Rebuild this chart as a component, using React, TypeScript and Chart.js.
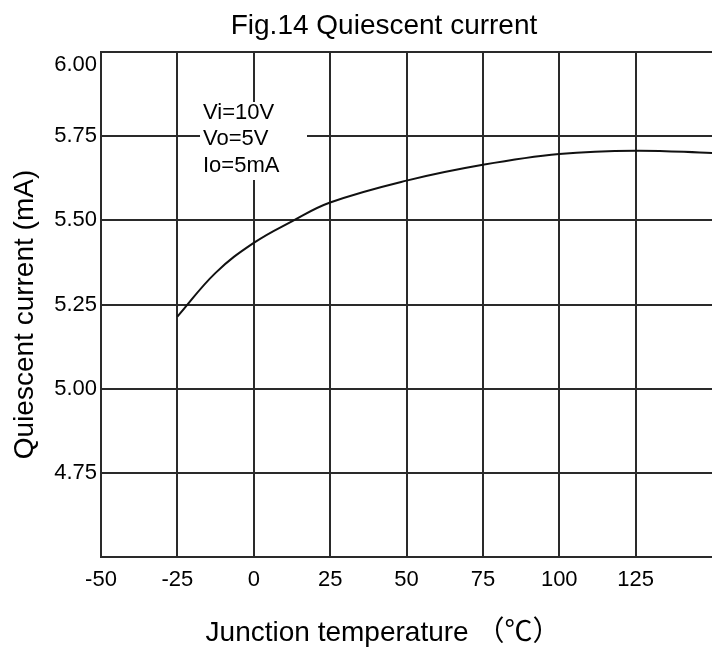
import React, { useEffect, useRef } from "react";
import { Chart, registerables } from "chart.js";

Chart.register(...registerables);

const temps = [-25, -12.5, 0, 12.5, 25, 50, 75, 100, 125, 150];
const currents = [5.214, 5.344, 5.433, 5.497, 5.553, 5.618, 5.665, 5.697, 5.707, 5.7];
const xTickValues = [-50, -25, 0, 25, 50, 75, 100, 125];
const yTickValues = [4.75, 5.0, 5.25, 5.5, 5.75, 6.0];
const noteLines = ["Vi=10V", "Vo=5V", "Io=5mA"];
const TITLE = "Fig.14 Quiescent current";
const X_TITLE = "Junction temperature （℃）";
const Y_TITLE = "Quiescent current (mA)";

const FONT = "'Liberation Sans', Arial, 'Noto Sans CJK SC', sans-serif";
const GRID = "#2a2a2a";

const textPlugin = {
  id: "customText",
  afterDraw(chart: any) {
    const ctx = chart.ctx as CanvasRenderingContext2D;
    ctx.save();
    ctx.fillStyle = "#000";
    ctx.textAlign = "center";
    ctx.textBaseline = "alphabetic";
    ctx.font = `28px ${FONT}`;
    ctx.fillText(TITLE, 384, 34);
    ctx.fillText(X_TITLE, 383, 641);
    ctx.save();
    ctx.translate(33, 314.5);
    ctx.rotate(-Math.PI / 2);
    ctx.fillText(Y_TITLE, 0, 0);
    ctx.restore();
    // note box
    ctx.fillStyle = "#fff";
    ctx.fillRect(200, 102, 107, 78);
    ctx.fillStyle = "#000";
    ctx.textAlign = "left";
    ctx.font = `22px ${FONT}`;
    noteLines.forEach((t, i) => ctx.fillText(t, 203, 118.5 + i * 26.7));
    ctx.restore();
  },
};

export default function App() {
  const ref = useRef<HTMLCanvasElement | null>(null);
  useEffect(() => {
    if (!ref.current) return;
    const points = temps.map((t, i) => ({ x: t, y: currents[i] }));
    const chart = new Chart(ref.current, {
      type: "line",
      data: {
        datasets: [
          {
            data: points,
            borderColor: "#111",
            borderWidth: 2,
            pointRadius: 0,
            fill: false,
            tension: 0.4,
          },
        ],
      },
      options: {
        animation: false,
        responsive: false,
        devicePixelRatio: 1,
        layout: { padding: { top: 52, left: 0, right: 0, bottom: 0 } },
        plugins: { legend: { display: false }, tooltip: { enabled: false }, title: { display: false } },
        scales: {
          x: {
            type: "linear",
            min: -50,
            max: 150,
            afterBuildTicks: (scale: any) => {
              scale.ticks = [...xTickValues, 150].map((v) => ({ value: v }));
            },
            afterFit: (scale: any) => {
              scale.height = 91;
              scale.paddingRight = 0;
              scale.paddingLeft = 0;
            },
            grid: {
              color: (c: any) => (c.tick && c.tick.value === 150 ? "rgba(0,0,0,0)" : GRID),
              lineWidth: 2,
              drawTicks: false,
            },
            border: { color: GRID, width: 2 },
            ticks: {
              padding: 10,
              color: "#000",
              font: { family: FONT, size: 22 },
              maxRotation: 0,
              autoSkip: false,
              callback: (v: any) => (xTickValues.includes(Number(v)) ? String(v) : ""),
            },
          },
          y: {
            type: "linear",
            min: 4.5,
            max: 6.0,
            afterBuildTicks: (scale: any) => {
              scale.ticks = [4.5, ...yTickValues].map((v) => ({ value: v }));
            },
            afterFit: (scale: any) => {
              scale.width = 101;
            },
            grid: { color: GRID, lineWidth: 2, drawTicks: false },
            border: { color: GRID, width: 2 },
            ticks: {
              padding: 4,
              color: "#000",
              font: { family: FONT, size: 22 },
              autoSkip: false,
              callback: (v: any) => {
                const n = Number(v);
                if (!yTickValues.includes(n)) return "";
                const s = n.toFixed(2);
                return n === 6.0 ? ["", s] : s;
              },
            },
          },
        },
      },
      plugins: [textPlugin],
    } as any);
    return () => chart.destroy();
  }, []);
  return (
    <div style={{ position: "absolute", left: 0, top: 0, width: 712, height: 648, background: "#fff" }}>
      <canvas ref={ref} width={712} height={648} />
    </div>
  );
}
